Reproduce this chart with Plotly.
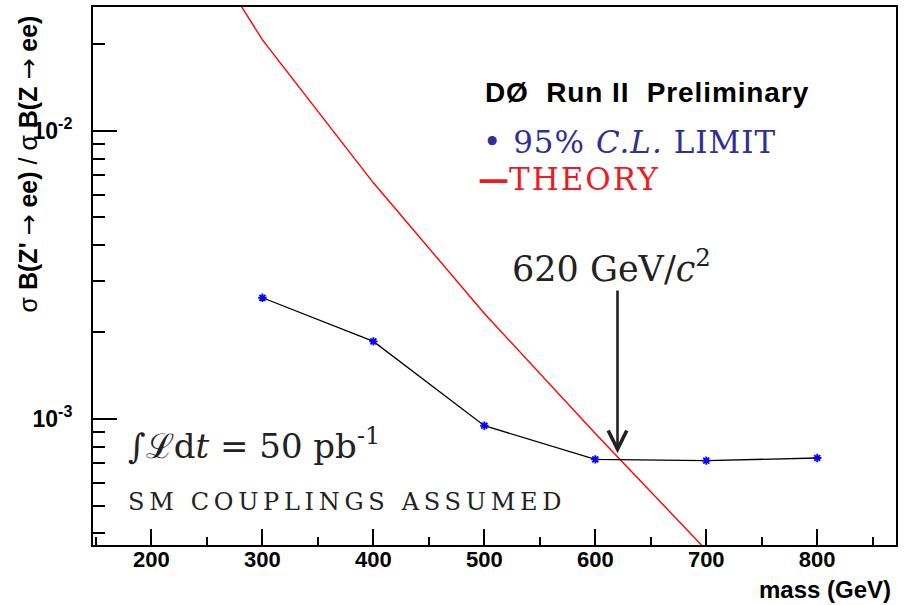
import plotly.graph_objects as go
import math

# ---- data ----
mass_limit = [300, 400, 500, 600, 700, 800]
limit_values = [2.63e-3, 1.856e-3, 9.46e-4, 7.23e-4, 7.16e-4, 7.31e-4]

mass_theory = [200, 300, 400, 500, 600, 700, 800]
theory_values = [8.45e-2, 2.065e-2, 6.59e-3, 2.32e-3, 8.89e-4, 3.48e-4, 1.38e-4]

x_major = [200, 300, 400, 500, 600, 700, 800]
x_minor = [150, 250, 350, 450, 550, 650, 750, 850]
y_major = [1e-3, 1e-2]
y_major_text = ["10<sup>-3</sup>", "10<sup>-2</sup>"]
y_minor = [4e-4, 5e-4, 6e-4, 7e-4, 8e-4, 9e-4,
           2e-3, 3e-3, 4e-3, 5e-3, 6e-3, 7e-3, 8e-3, 9e-3, 2e-2]

x_range = [147.3, 871]
y_range_log = [-3.438, -1.571]

mass_excl = 620
arrow_tip = 7.6e-4
arrow_tail = 2.82e-3

SANS = "Liberation Sans"
SERIF = "DejaVu Serif"

fig = go.Figure()
fig.add_trace(go.Scatter(
    x=mass_theory, y=theory_values, mode="lines",
    line=dict(color="#ff0000", width=1.4), showlegend=False,
))
fig.add_trace(go.Scatter(
    x=mass_limit, y=limit_values, mode="lines+markers",
    line=dict(color="black", width=1.3),
    marker=dict(symbol="asterisk-open", size=7, color="#0000ff",
                line=dict(color="#0000ff", width=1.8)),
    showlegend=False,
))

axis_common = dict(showline=True, linecolor="black", linewidth=2, mirror=True,
                   showgrid=False, zeroline=False, ticks="inside",
                   tickcolor="black", tickwidth=1.5)

fig.update_xaxes(
    range=x_range, tickmode="array", tickvals=x_major,
    ticktext=[str(v) for v in x_major], ticklen=16,
    tickfont=dict(family=SANS, size=22, weight="bold", color="black"),
    ticklabelstandoff=-6,
    minor=dict(tickmode="array", tickvals=x_minor, ticklen=8, ticks="inside",
               tickcolor="black", tickwidth=1.5),
    **axis_common,
)
fig.update_yaxes(
    type="log", range=y_range_log, tickmode="array", tickvals=y_major,
    ticktext=y_major_text, ticklen=24,
    tickfont=dict(family=SANS, size=23, weight="bold", color="black"),
    ticklabelstandoff=14,
    minor=dict(tickmode="array", tickvals=y_minor, ticklen=12, ticks="inside",
               tickcolor="black", tickwidth=1.5),
    **axis_common,
)

L, R, T, B = 93, 14, 5, 60
W, H = 910, 605
pw, ph = W - L - R, H - T - B


def px(X):
    return (X - L) / pw


def py(Y):
    return (H - B - Y) / ph


ann = []
ann.append(dict(text="<span style='letter-spacing:0.9px'>DØ  Run II  Preliminary</span>",
                x=px(483), y=py(91), xanchor="left",
                yanchor="middle", font=dict(family=SANS, size=28, weight="bold", color="black")))
ann.append(dict(text="<span style='letter-spacing:1px'>• 95% <i>C.L.</i> LIMIT</span>",
                x=px(481), y=py(140), xanchor="left",
                yanchor="middle", font=dict(family=SERIF, size=31, color="#2e3192")))
ann.append(dict(text="<b>—</b><span style='letter-spacing:2px'>THEORY</span>",
                x=px(476), y=py(178), xanchor="left",
                yanchor="middle", font=dict(family=SERIF, size=31, color="#ed1c24")))
ann.append(dict(text="620 GeV/<i>c</i><sup>2</sup>", x=px(510), y=py(265), xanchor="left",
                yanchor="middle", font=dict(family=SERIF, size=35, color="#222222")))
ann.append(dict(text="∫ℒd<i>t</i> = 50 pb<sup>-1</sup>", x=px(126), y=py(444), xanchor="left",
                yanchor="middle", font=dict(family=SERIF, size=34, color="#222222")))
ann.append(dict(text="<span style='letter-spacing:4.7px'>SM COUPLINGS ASSUMED</span>",
                x=px(126), y=py(502), xanchor="left",
                yanchor="middle", font=dict(family=SERIF, size=24, color="#222222")))
ann.append(dict(text="mass (GeV)", x=px(893), y=py(590), xanchor="right",
                yanchor="middle", font=dict(family=SANS, size=24, weight="bold", color="black")))
ann.append(dict(text="σ <b>B(Z' </b><span style='font-family:DejaVu Sans'>→</span><b> ee)</b>"
                     " / σ <b>B(Z </b><span style='font-family:DejaVu Sans'>→</span><b> ee)</b>",
                x=px(28), y=py(163),
                xanchor="center", yanchor="middle", textangle=-90,
                font=dict(family=SANS, size=25, color="black")))
for a in ann:
    a.update(xref="paper", yref="paper", showarrow=False)

# exclusion arrow
ann.append(dict(text="", x=mass_excl, y=math.log10(arrow_tip), xref="x", yref="y",
                ax=mass_excl, ay=math.log10(arrow_tail), axref="x", ayref="y",
                showarrow=True, arrowhead=5, arrowsize=1.4, arrowwidth=2.6,
                arrowcolor="#222222", standoff=0))

fig.update_layout(
    width=W, height=H, margin=dict(l=L, r=R, t=T, b=B),
    paper_bgcolor="white", plot_bgcolor="white",
    annotations=ann,
)

fig.write_html("out.html", config={"displayModeBar": False},
               post_script="document.body.style.margin='0';")
